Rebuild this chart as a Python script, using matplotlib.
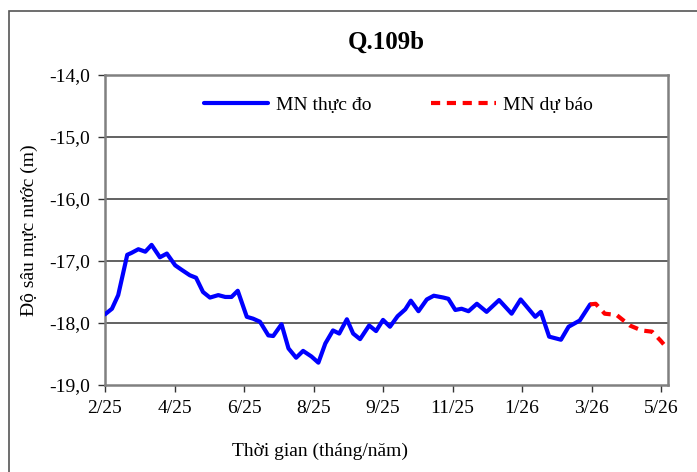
import matplotlib
matplotlib.use("Agg")
import matplotlib.pyplot as plt
from matplotlib.patches import Rectangle

plt.rcParams["font.family"] = ["Liberation Serif", "DejaVu Serif"]

# x in tick units (0 = 2/25, 1 = 4/25, ... 8 = 5/26)
TICK_LABELS = ["2/25", "4/25", "6/25", "8/25", "9/25", "11/25", "1/26", "3/26", "5/26"]

obs_x = [0.00, 0.10, 0.19, 0.26, 0.32, 0.38, 0.48, 0.58, 0.67, 0.79, 0.89,
         1.01, 1.10, 1.22, 1.31, 1.41, 1.51, 1.63, 1.73, 1.82, 1.91, 2.04,
         2.13, 2.23, 2.35, 2.42, 2.54, 2.64, 2.75, 2.85, 2.97, 3.07, 3.17,
         3.28, 3.37, 3.48, 3.57, 3.67, 3.80, 3.90, 4.00, 4.10, 4.21, 4.32,
         4.40, 4.51, 4.63, 4.73, 4.87, 4.94, 5.04, 5.13, 5.23, 5.35, 5.49,
         5.67, 5.85, 5.98, 6.19, 6.27, 6.39, 6.56, 6.67, 6.83, 6.98]
obs_y = [-17.86, -17.77, -17.55, -17.20, -16.90, -16.87, -16.81, -16.85, -16.74, -16.94, -16.88,
         -17.07, -17.14, -17.23, -17.27, -17.50, -17.59, -17.55, -17.58, -17.58, -17.48, -17.90,
         -17.93, -17.98, -18.20, -18.21, -18.02, -18.41, -18.56, -18.45, -18.54, -18.64, -18.33,
         -18.12, -18.17, -17.94, -18.17, -18.26, -18.04, -18.13, -17.95, -18.06, -17.89, -17.78,
         -17.64, -17.81, -17.62, -17.56, -17.59, -17.61, -17.79, -17.77, -17.81, -17.69, -17.82,
         -17.63, -17.85, -17.62, -17.90, -17.82, -18.22, -18.27, -18.06, -17.96, -17.70]

fc_x = [6.98, 7.06, 7.19, 7.36, 7.55, 7.72, 7.87, 7.99, 8.09]
fc_y = [-17.70, -17.69, -17.85, -17.87, -18.04, -18.12, -18.14, -18.28, -18.41]

fig = plt.figure(figsize=(6.97, 4.72), dpi=100)
ax = fig.add_axes([105 / 697, 1 - 385 / 472, 563 / 697, 310 / 472])

# outer chart frame
fig.patches.append(Rectangle((9 / 697, -0.05), 1.1, 1.05 - 11 / 472,
                             transform=fig.transFigure, fill=False,
                             edgecolor="#555555", linewidth=1.2))

ax.plot(obs_x, obs_y, color="#0000ff", linewidth=3, label="MN thực đo", zorder=3,
        solid_joinstyle="round", solid_capstyle="round")
ax.plot(fc_x, fc_y, color="#ff0000", linewidth=3, linestyle=(0, (2.2, 1.6)),
        label="MN dự báo", zorder=3, dash_joinstyle="round")

ax.set_xlim(0, 8.10)
ax.set_ylim(-19, -14)
ax.set_xticks(range(len(TICK_LABELS)))
ax.set_xticklabels(TICK_LABELS)
yt = [-19, -18, -17, -16, -15, -14]
ax.set_yticks(yt)
ax.set_yticklabels([f"{v:.1f}".replace(".", ",") for v in yt])
ax.tick_params(axis="both", labelsize=14, direction="out", length=5,
               width=1, color="#333333", pad=6)

for s in ax.spines.values():
    s.set_color("#808080")
    s.set_linewidth(1.8)
for v in [-18, -17, -16, -15]:
    ax.axhline(v, color="#555555", linewidth=1.3, zorder=1)

ax.set_title("Q.109b", fontsize=18, fontweight="bold", pad=0, y=1.0 + 26 / 310)
ax.set_ylabel("Độ sâu mực nước (m)", fontsize=14, labelpad=8)
fig.text(320 / 697, 1 - 451 / 472, "Thời gian (tháng/năm)", fontsize=14,
         ha="center", va="center")

ax.legend(loc="center", bbox_to_anchor=(0.5 + 12 / 563, 1 - 30 / 310), ncol=2,
          frameon=False, fontsize=14, handlelength=3.3, columnspacing=3.1,
          handletextpad=0.4)

fig.savefig("out.png", dpi=100)
